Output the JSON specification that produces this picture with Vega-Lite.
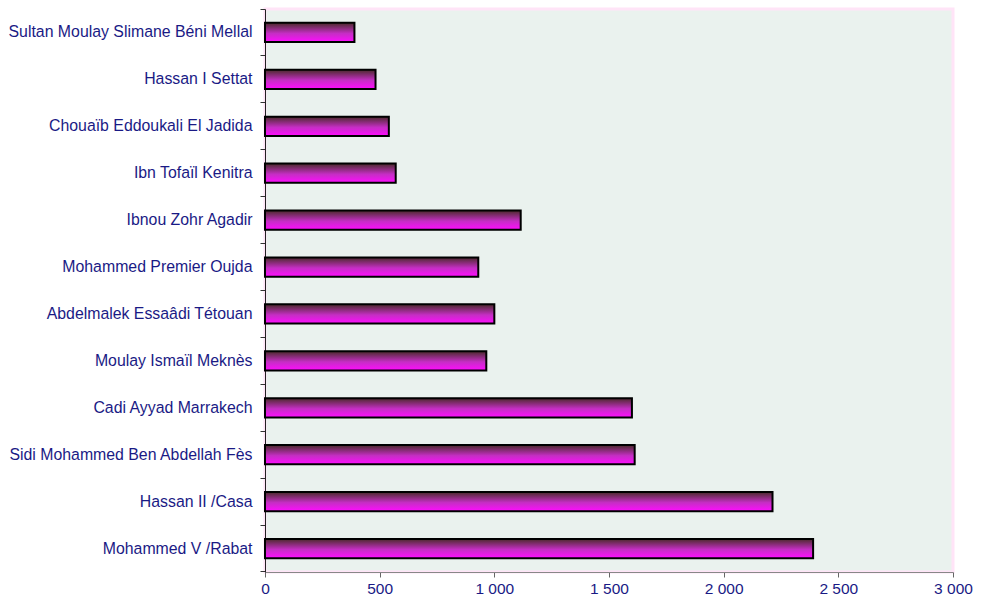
{
  "$schema": "https://vega.github.io/schema/vega-lite/v6.json",
  "width": 688,
  "height": 563,
  "autosize": {"type": "none"},
  "padding": {"left": 265, "top": 9, "right": 31, "bottom": 28},
  "background": "white",
  "data": {
    "values": [
      {"universite": "Sultan Moulay Slimane Béni Mellal", "effectif": 390},
      {"universite": "Hassan I Settat", "effectif": 482},
      {"universite": "Chouaïb Eddoukali El Jadida", "effectif": 540},
      {"universite": "Ibn Tofaïl Kenitra", "effectif": 570},
      {"universite": "Ibnou Zohr Agadir", "effectif": 1115},
      {"universite": "Mohammed Premier Oujda", "effectif": 930},
      {"universite": "Abdelmalek Essaâdi Tétouan", "effectif": 1000},
      {"universite": "Moulay Ismaïl Meknès", "effectif": 965},
      {"universite": "Cadi Ayyad Marrakech", "effectif": 1600},
      {"universite": "Sidi Mohammed Ben Abdellah Fès", "effectif": 1612},
      {"universite": "Hassan II /Casa", "effectif": 2213},
      {"universite": "Mohammed V /Rabat", "effectif": 2390}
    ]
  },
  "mark": {
    "type": "bar",
    "height": {"band": 0.41},
    "stroke": "black",
    "strokeWidth": 2,
    "color": {
      "gradient": "linear",
      "x1": 0, "y1": 0, "x2": 0, "y2": 1,
      "stops": [
        {"offset": 0, "color": "#4a2a2a"},
        {"offset": 0.55, "color": "#c52ec4"},
        {"offset": 1, "color": "#ff0cff"}
      ]
    }
  },
  "encoding": {
    "y": {
      "field": "universite",
      "type": "nominal",
      "sort": null,
      "scale": {"paddingInner": 0, "paddingOuter": 0},
      "axis": {
        "title": null,
        "bandPosition": 1,
        "tickExtra": true,
        "domainColor": "#222",
        "tickColor": "#333",
        "tickSize": 5,
        "labelPadding": 8,
        "labelFont": "Liberation Sans",
        "labelFontSize": 15.85,
        "labelColor": "#1a1a85",
        "labelLimit": 400
      }
    },
    "x": {
      "field": "effectif",
      "type": "quantitative",
      "scale": {"domain": [0, 3000], "nice": false},
      "axis": {
        "title": null,
        "values": [0, 500, 1000, 1500, 2000, 2500, 3000],
        "grid": false,
        "labelExpr": "replace(format(datum.value, ','), ',', ' ')",
        "domainColor": "#888",
        "tickColor": "#666",
        "tickSize": 5,
        "labelPadding": 4,
        "labelFont": "Liberation Sans",
        "labelFontSize": 15.5,
        "labelColor": "#1a1a85",
        "labelFlush": false
      }
    }
  },
  "config": {
    "view": {"fill": "#EAF2EE", "stroke": "#FFE4F7", "strokeWidth": 3}
  }
}
